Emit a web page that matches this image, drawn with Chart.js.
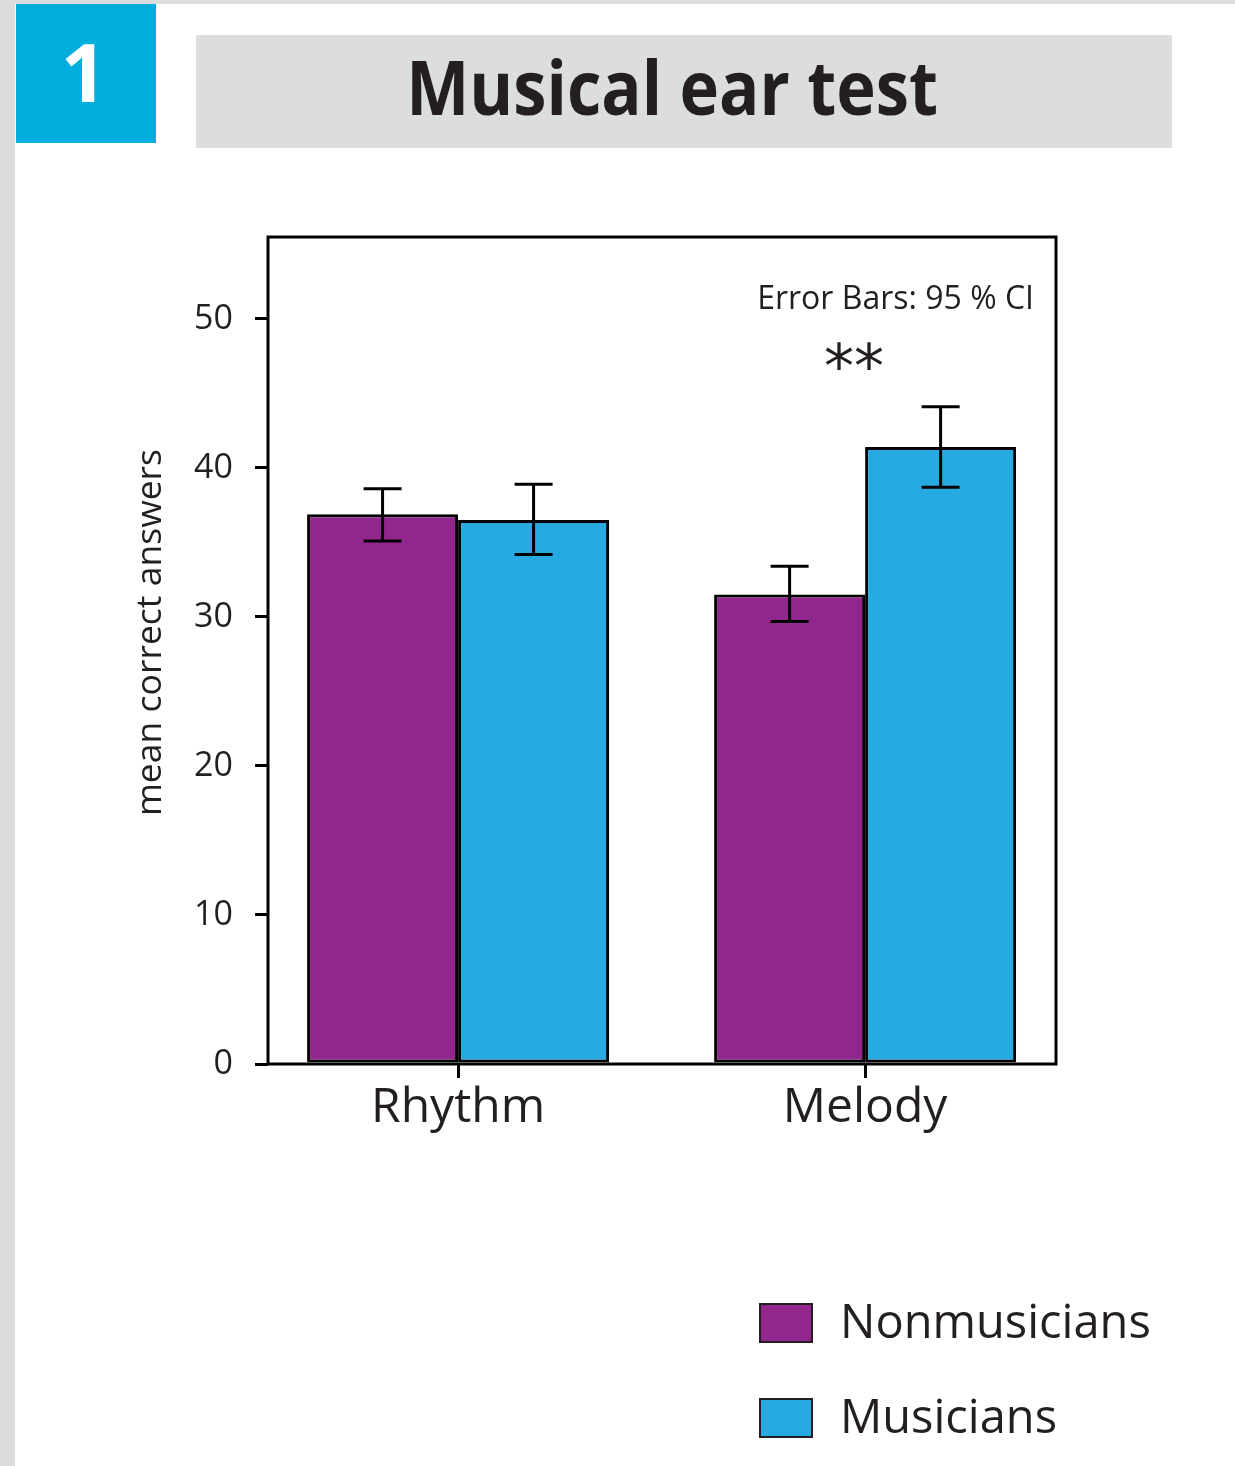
<!DOCTYPE html>
<html>
<head>
<meta charset="utf-8">
<title>Musical ear test</title>
<script src="https://cdn.jsdelivr.net/npm/chart.js@4.4.1/dist/chart.umd.min.js"></script>
<style>
  html, body { margin: 0; padding: 0; background: #fff; }
  body { width: 1235px; height: 1466px; position: relative; overflow: hidden;
         font-family: "Open Sans", sans-serif; color: #231f20; }
  .strip-top { position: absolute; left: 0; top: 0; width: 1235px; height: 4px; background: #dcdddf; }
  .strip-left { position: absolute; left: 0; top: 0; width: 15px; height: 1466px; background: #dcdddf; }
  .badge { position: absolute; left: 16px; top: 4px; width: 140px; height: 139px; background: #00aedd;
           color: #fff; font-weight: 700; font-size: 81px; line-height: 139px; text-align: center; }
  .badge span { position: relative; top: -3px; left: -2px; }
  .titlebox { position: absolute; left: 196px; top: 35px; width: 976px; height: 113px; background: #dcdddf;
              text-align: center; line-height: 113px; }
  .titlebox span { display: inline-block; position: relative; top: -6px; left: -12px;
                   font-weight: 700; font-size: 76px; transform: scaleX(0.88); white-space: nowrap; }
  #chart { position: absolute; left: 0; top: 0; }
  .legend { position: absolute; left: 759px; top: 1303px; }
  .legend .item { display: flex; align-items: center; height: 40px; margin-bottom: 55px; }
  .legend .swatch { width: 50px; height: 36px; border: 2px solid #231f20; margin-right: 27px; flex: none; }
  .legend .label { font-size: 47px; white-space: nowrap; position: relative; top: -3px; }
</style>
</head>
<body>
<div class="strip-top"></div>
<div class="strip-left"></div>
<div class="badge"><span>1</span></div>
<div class="titlebox"><span>Musical ear test</span></div>
<canvas id="chart" width="1235" height="1466"></canvas>
<div class="legend" id="legend"></div>

<script>
// Test categories and group names
const categories = ['Rhythm', 'Melody'];
const groupNames = ['Nonmusicians', 'Musicians'];

// Mean correct answers per category
const nonmusicianMeans = [36.9, 31.5];
const musicianMeans = [36.5, 41.4];

// 95 % confidence interval bounds
const nonmusicianLow = [35.1, 29.7];
const nonmusicianHigh = [38.6, 33.4];
const musicianLow = [34.2, 38.7];
const musicianHigh = [38.9, 44.1];

// Value axis
const yTicks = [0, 10, 20, 30, 40, 50];
const yMax = 55.5;

// Category positions run 0, 1, ... on a numeric axis with uneven side margins
const xMin = -0.467;
const xMax = 1.469;

const groupColors = ['#91278c', '#27aae1'];
const ink = '#231f20';

const errorBars = [
  { low: nonmusicianLow, high: nonmusicianHigh },
  { low: musicianLow, high: musicianHigh }
];

const toPoints = values => values.map((v, i) => ({ x: i, y: v }));

// Whiskers with caps for each bar
const errorBarPlugin = {
  id: 'errorBars',
  afterDatasetsDraw(chart) {
    const ctx = chart.ctx;
    const y = chart.scales.y;
    ctx.save();
    ctx.strokeStyle = '#000';
    ctx.lineWidth = 3;
    chart.data.datasets.forEach((ds, i) => {
      const meta = chart.getDatasetMeta(i);
      meta.data.forEach((bar, j) => {
        const yHi = y.getPixelForValue(errorBars[i].high[j]);
        const yLo = y.getPixelForValue(errorBars[i].low[j]);
        const half = 19;
        ctx.beginPath();
        ctx.moveTo(bar.x, yHi); ctx.lineTo(bar.x, yLo);
        ctx.moveTo(bar.x - half, yHi); ctx.lineTo(bar.x + half, yHi);
        ctx.moveTo(bar.x - half, yLo); ctx.lineTo(bar.x + half, yLo);
        ctx.stroke();
      });
    });
    ctx.restore();
  }
};

// Closed frame around the plot area, axis title and annotations
const framePlugin = {
  id: 'frame',
  afterDraw(chart) {
    const { ctx, chartArea: a } = chart;
    ctx.save();
    ctx.strokeStyle = '#000';
    ctx.lineWidth = 3;
    ctx.strokeRect(a.left, a.top, a.right - a.left, a.bottom - a.top);

    ctx.fillStyle = ink;
    ctx.font = '32px "Open Sans"';
    ctx.textAlign = 'right';
    ctx.textBaseline = 'alphabetic';
    ctx.fillText('Error Bars: 95 % CI', a.right - 22, a.top + 72);

    const xMel = chart.scales.x.getPixelForValue(1);
    ctx.textAlign = 'center';
    ctx.font = '60px "DejaVu Sans"';
    ctx.fillText('**', xMel - 11, a.top + 150);

    // value axis title
    ctx.save();
    ctx.translate(161, (a.top + a.bottom) / 2 - 18);
    ctx.rotate(-Math.PI / 2);
    ctx.font = '35.5px "Open Sans"';
    ctx.textAlign = 'center';
    ctx.fillText('mean correct answers', 0, 0);
    ctx.restore();

    ctx.restore();
  }
};

const chart = new Chart(document.getElementById('chart'), {
  type: 'bar',
  data: {
    datasets: [
      { label: groupNames[0], data: toPoints(nonmusicianMeans), backgroundColor: groupColors[0] },
      { label: groupNames[1], data: toPoints(musicianMeans), backgroundColor: groupColors[1] }
    ]
  },
  options: {
    responsive: false,
    devicePixelRatio: 1,
    animation: false,
    layout: { padding: { left: 100, right: 179, top: 237, bottom: 322 } },
    datasets: {
      bar: {
        borderColor: '#000',
        borderWidth: 3,
        borderSkipped: false,
        categoryPercentage: 0.742,
        barPercentage: 1.0
      }
    },
    plugins: {
      legend: { display: false },
      tooltip: { enabled: false },
      title: { display: false }
    },
    scales: {
      x: {
        type: 'linear',
        min: xMin,
        max: xMax,
        offset: false,
        afterFit(scale) { scale.height = 80; },
        afterBuildTicks(scale) { scale.ticks = categories.map((c, i) => ({ value: i })); },
        grid: { offset: false, drawOnChartArea: false, drawTicks: true, tickLength: 14, color: '#000', lineWidth: 3 },
        border: { display: false },
        ticks: {
          color: ink,
          font: { family: 'Open Sans', size: 48 },
          padding: 2,
          maxRotation: 0,
          autoSkip: false,
          callback: value => categories[value]
        }
      },
      y: {
        min: 0,
        max: yMax,
        afterFit(scale) { scale.width = 168; },
        afterBuildTicks(scale) { scale.ticks = yTicks.map(v => ({ value: v })); },
        grid: { drawOnChartArea: false, drawTicks: true, tickLength: 13, color: '#000', lineWidth: 3 },
        border: { display: false },
        ticks: { color: ink, font: { family: 'Open Sans', size: 34 }, padding: 22 }
      }
    }
  },
  plugins: [errorBarPlugin, framePlugin]
});

// Legend built from the chart's datasets
const legendEl = document.getElementById('legend');
chart.data.datasets.forEach(ds => {
  const item = document.createElement('div');
  item.className = 'item';
  const sw = document.createElement('div');
  sw.className = 'swatch';
  sw.style.background = ds.backgroundColor;
  const lb = document.createElement('div');
  lb.className = 'label';
  lb.textContent = ds.label;
  item.appendChild(sw);
  item.appendChild(lb);
  legendEl.appendChild(item);
});
</script>
</body>
</html>
